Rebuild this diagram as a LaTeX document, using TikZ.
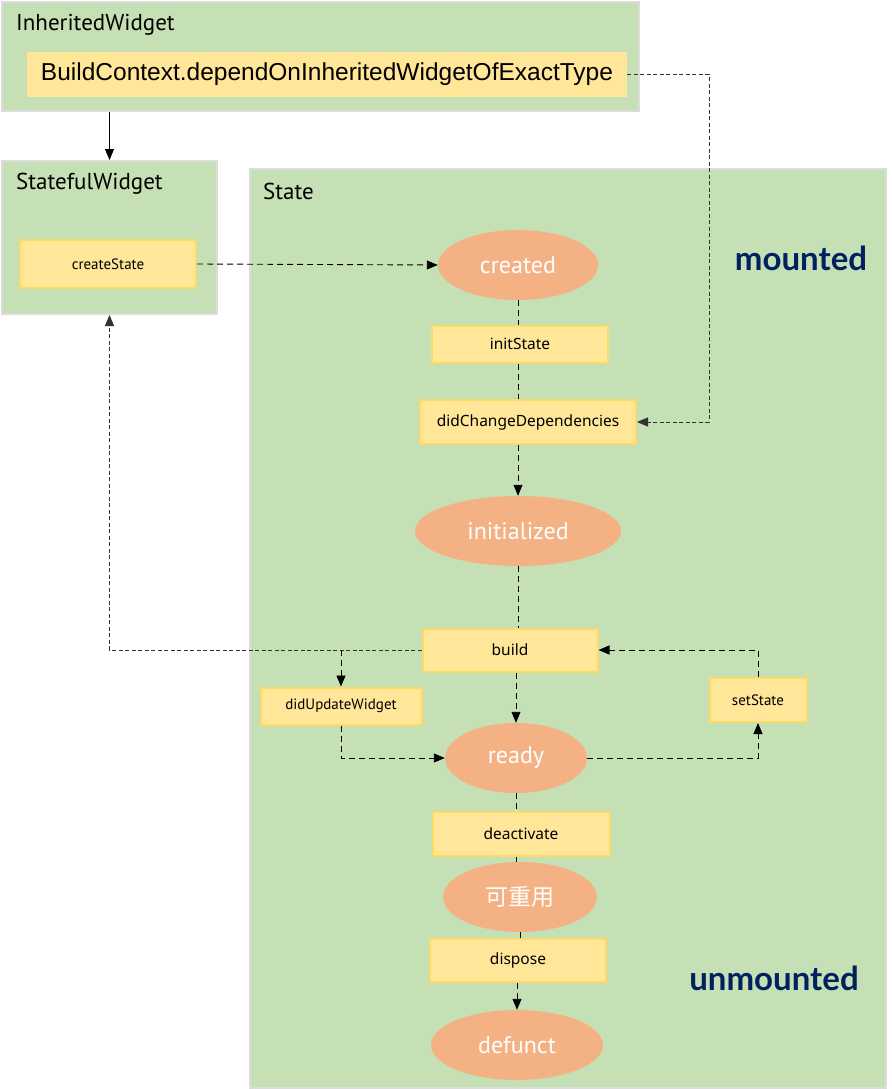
\documentclass[tikz,border=0pt]{standalone}
\usepackage{fontspec}
\setmainfont{Noto Sans}
\newfontfamily\ptsans{PT Sans}
\newfontfamily\libsans{Liberation Sans}
\newfontfamily\latofont{Lato}
\newfontfamily\cjk{Noto Sans CJK SC}
\usetikzlibrary{arrows.meta,shapes.geometric,calc}
\definecolor{panelgreen}{HTML}{C5E0B4}
\definecolor{panelline}{HTML}{DCDCDC}
\definecolor{yfill}{HTML}{FFE699}
\definecolor{yline}{HTML}{FFD966}
\definecolor{orangefill}{HTML}{F4B183}
\definecolor{navy}{HTML}{002060}
\definecolor{linegray}{HTML}{333333}
\begin{document}
\begin{tikzpicture}[x=1pt,y=-1pt,
  panel/.style={draw=panelline, line width=2pt, fill=panelgreen, inner sep=0pt, anchor=north west},
  title/.style={anchor=west, inner sep=0pt, font=\ptsans\fontsize{23}{26}\selectfont},
  ybox/.style={draw=yline, line width=2pt, fill=yfill, inner sep=0pt},
  lblA/.style={font=\fontsize{15.5}{17}\selectfont},
  lblB/.style={font=\ptsans\fontsize{15}{17}\selectfont},
  stateel/.style={ellipse, fill=orangefill, inner sep=0pt, minimum height=70pt, text=white, font=\ptsans\fontsize{24}{27}\selectfont},
  flow/.style={draw=black, line width=0.9pt, dash pattern=on 6pt off 4pt},
  fine/.style={draw=linegray, line width=0.9pt, dash pattern=on 4pt off 2.5pt},
  arr/.style={-{Triangle[length=11pt,width=9pt]}},
  big/.style={font=\latofont\bfseries\fontsize{33}{36}\selectfont, text=navy}]
\useasboundingbox (0,0) rectangle (891,1089);
\fill[white] (0,0) rectangle (891,1089);

% panels
\node[panel, minimum width=637pt, minimum height=109pt] (iw) at (1,1) {};
\node[title] (iwt) at (16,25) {InheritedWidget};
\node[panel, minimum width=215pt, minimum height=153pt] (sw) at (1,160) {};
\node[title] (swt) at (16,184) {StatefulWidget};
\node[panel, minimum width=636pt, minimum height=919pt] (st) at (249,168) {};
\node[title] (stt) at (263,191) {State};

% inherited widget box
\node[fill=yfill, inner sep=0pt, minimum width=600pt, minimum height=45pt, font=\libsans\fontsize{24.5}{28}\selectfont] (bc) at (327,74.5) {BuildContext.dependOnInheritedWidgetOfExactType};

% boxes
\node[ybox, lblB, minimum width=176pt, minimum height=48pt] (cs) at (108,264) {createState};
\node[ybox, lblA, minimum width=176pt, minimum height=37pt] (is) at (520,344) {initState};
\node[ybox, lblA, minimum width=216pt, minimum height=44pt] (dc) at (528,422) {didChangeDependencies};
\node[ybox, lblA, minimum width=175pt, minimum height=43pt] (bd) at (510,650) {build};
\node[ybox, lblB, minimum width=161pt, minimum height=37pt] (du) at (341,706) {didUpdateWidget};
\node[ybox, lblB, minimum width=97pt, minimum height=44pt] (ss) at (758,700) {setState};
\node[ybox, lblA, minimum width=177pt, minimum height=44pt] (da) at (521,834) {deactivate};
\node[ybox, lblA, minimum width=176pt, minimum height=43pt] (dp) at (518,960) {dispose};

% states
\node[stateel, minimum width=160pt] (cr) at (518,265) {created};
\node[stateel, minimum width=206pt] (in) at (518,531) {initialized};
\node[stateel, minimum width=142pt] (rd) at (516,758) {ready};
\node[stateel, minimum width=154pt, font=\cjk\fontsize{23}{26}\selectfont] (ru) at (520,897) {可重用};
\node[stateel, minimum width=172pt] (df) at (517,1045) {defunct};

% big labels
\node[big] (mt) at (801,258) {mounted};
\node[big] (um) at (774,978) {unmounted};

% connectors
\draw[line width=0.9pt, arr] (sw.north |- iw.south) -- (sw.north);
\draw[flow, arr] (cs.east) -- (cr.west);
\draw[flow] (cr.south) -- (cr.south |- is.north);
\draw[flow] (cr.south |- is.south) -- (cr.south |- dc.north);
\draw[flow, arr] (in.north |- dc.south) -- (in.north);
\coordinate (tx) at (709,0);
\draw[fine, arr] (bc.east) -- (bc.east -| tx) |- (dc.east);
\draw[flow] (in.south) -- (in.south |- bd.north);
\draw[flow, arr] (rd.north |- bd.south) -- (rd.north);
\draw[fine, arr] (bd.west) -| (sw.south);
\coordinate (br) at (du.north |- bd.west);
\draw[flow, arr] (br) -- (du.north);
\draw[flow, arr] (du.south) |- (rd.west);
\draw[flow, arr] (rd.east) -| (ss.south);
\draw[flow, arr] (ss.north) |- (bd.east);
\draw[flow] (rd.south) -- (rd.south |- da.north);
\draw[flow] (rd.south |- da.south) -- (rd.south |- ru.north);
\draw[flow] (ru.south) -- (ru.south |- dp.north);
\draw[flow, arr] (df.north |- dp.south) -- (df.north);
\end{tikzpicture}
\end{document}
